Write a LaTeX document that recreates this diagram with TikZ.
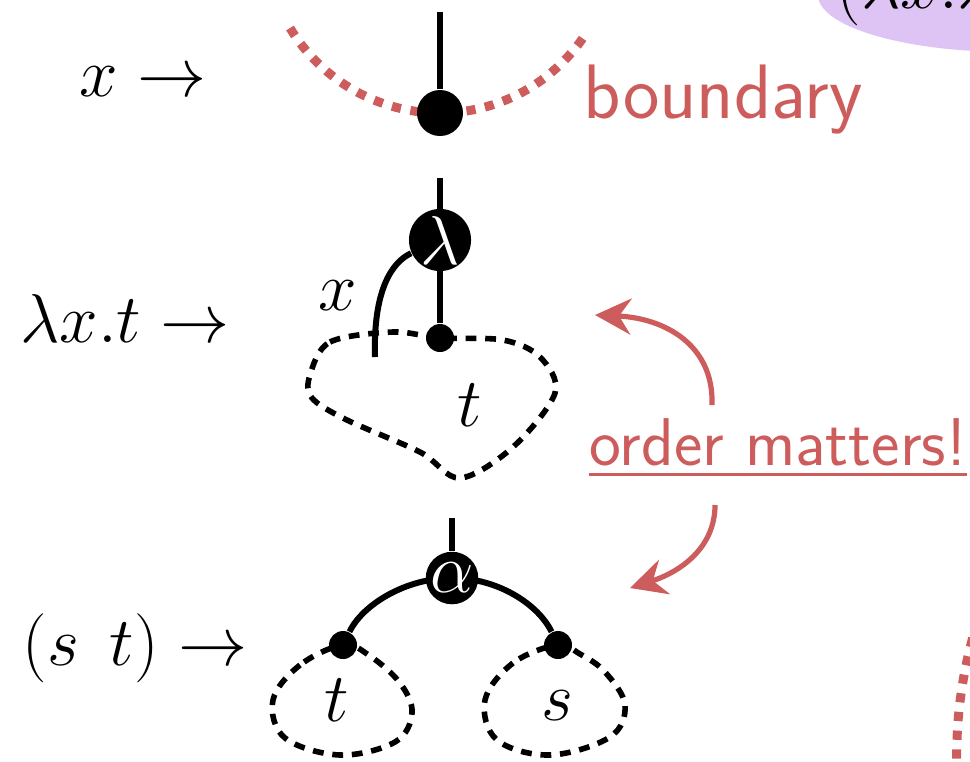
\documentclass[tikz,border=0pt]{standalone}
\usetikzlibrary{arrows.meta}
\definecolor{bred}{RGB}{205,92,92}
\definecolor{lpurple}{RGB}{221,196,245}
\pgfdeclarelayer{background}
\pgfsetlayers{background,main}
\begin{document}
\begin{tikzpicture}[x=0.25pt,y=-0.25pt,
  wire/.style={line width=1.5pt},
  bigdot/.style={circle,fill=black,inner sep=0pt,minimum size=11.5pt},
  smalldot/.style={circle,fill=black,inner sep=0pt,minimum size=7pt},
  opnode/.style={circle,fill=black,inner sep=0pt,minimum size=11.8pt,text=white,font=\fontsize{16}{18}\selectfont},
  blob/.style={line width=1.4pt,dash pattern=on 2.7pt off 2.2pt},
  bnd/.style={line width=2.25pt,draw=bred,dash pattern=on 2.3pt off 2.4pt},
  lbl/.style={font=\fontsize{18}{22}\selectfont},
  rlbl/.style={text=bred,font=\sffamily\fontsize{19.3}{22}\selectfont},
  rarr/.style={line width=1.3pt,draw=bred,-{Stealth[length=9pt,width=9pt,inset=3pt]}},
]
\useasboundingbox (0,0) rectangle (970,761);
\begin{scope}
\clip (0,0) rectangle (970,761);
% purple blob (cut off)
\fill[lpurple] (1010,-5) ellipse [x radius=192, y radius=57];
\node[lbl,anchor=base west,inner sep=0pt] (blobtext) at (836,8) {$(\lambda x.\lambda$};
% bottom-right boundary piece
\coordinate (b2a) at (978,620);
\coordinate (b2b) at (957,775);
\draw[bnd] (b2a) .. controls (962,670) and (955,720) .. (b2b);

% ---------- row 1: variable
\node[lbl] (l1) at (143,82) {$x\rightarrow$};
\coordinate (b1l) at (290,28);
\coordinate (b1r) at (585,35);
\draw[bnd] (b1l) .. controls (321.6,80.6) and (378.6,113) .. (440,113)
               .. controls (498.5,113) and (552.5,83.6) .. (b1r);
\node[bigdot] (d1) at (440,113) {};
\coordinate (t1) at (440,12);
\begin{pgfonlayer}{background}
\draw[wire] (t1) -- (d1);
\end{pgfonlayer}
\node[rlbl,anchor=base west,inner sep=0pt] (bd) at (583,118) {boundary};

% ---------- row 2: abstraction
\node[lbl] (l2) at (125,318) {$\lambda x.t\rightarrow$};
\node[opnode] (lam) at (440,240) {$\lambda$};
\node[smalldot] (r2) at (440,338) {};
\coordinate (t2) at (440,178);
\coordinate (xend) at (375,357);
\begin{pgfonlayer}{background}
\draw[wire] (t2) -- (r2);
\draw[wire] (xend) .. controls (373,290) and (392,262) .. (lam);
\end{pgfonlayer}
\node[lbl] (xl) at (338,296) {$x$};
\draw[blob] plot[smooth cycle,tension=0.55] coordinates
  {(310,375) (330,342) (393,332) (440,338) (503,340) (540,357) (555,393)
   (513,447) (460,478) (420,452) (347,420) (312,398)};
\node[lbl] (tl) at (470,405) {$t$};

% ---------- order matters
\node[text=bred,font=\sffamily\fontsize{16.9}{20}\selectfont,anchor=base,inner sep=0pt] (om) at (778,465) {order matters!};
\draw[bred,line width=0.8pt] ([yshift=-2.3pt]om.base west) -- ([yshift=-2.3pt]om.base east);
\coordinate (a1s) at (712,405);
\coordinate (a1e) at (595,315);
\coordinate (a2s) at (715,505);
\coordinate (a2e) at (630,588);
\draw[rarr] (a1s) .. controls (714,345) and (665,318) .. (a1e);
\draw[rarr] (a2s) .. controls (715,548) and (680,572) .. (a2e);

% ---------- row 3: application
\node[lbl] (l3) at (135,648) {$(s\;\,t)\rightarrow$};
\node[opnode] (app) at (452,578) {$\alpha$};
\coordinate (t3) at (452,518);
\node[smalldot] (ld) at (343,645) {};
\node[smalldot] (rd) at (558,645) {};
\begin{pgfonlayer}{background}
\draw[wire] (t3) -- (app);
\draw[wire] (ld) .. controls (363,604) and (406.5,578) .. (app.center)
               .. controls (497.5,578) and (538,604) .. (rd);
\end{pgfonlayer}
\draw[blob] plot[smooth cycle,tension=0.6] coordinates
  {(343,645) (300,665) (273,700) (285,738) (340,755) (395,742) (412,713) (400,683) (370,656)};
\draw[blob] plot[smooth cycle,tension=0.6] coordinates
  {(557,645) (513,663) (485,700) (497,740) (550,755) (610,737) (625,705) (605,672) (580,654)};
\node[lbl] (tt) at (337,700) {$t$};
\node[lbl] (ss) at (557,706) {$s$};
\end{scope}
\end{tikzpicture}
\end{document}
